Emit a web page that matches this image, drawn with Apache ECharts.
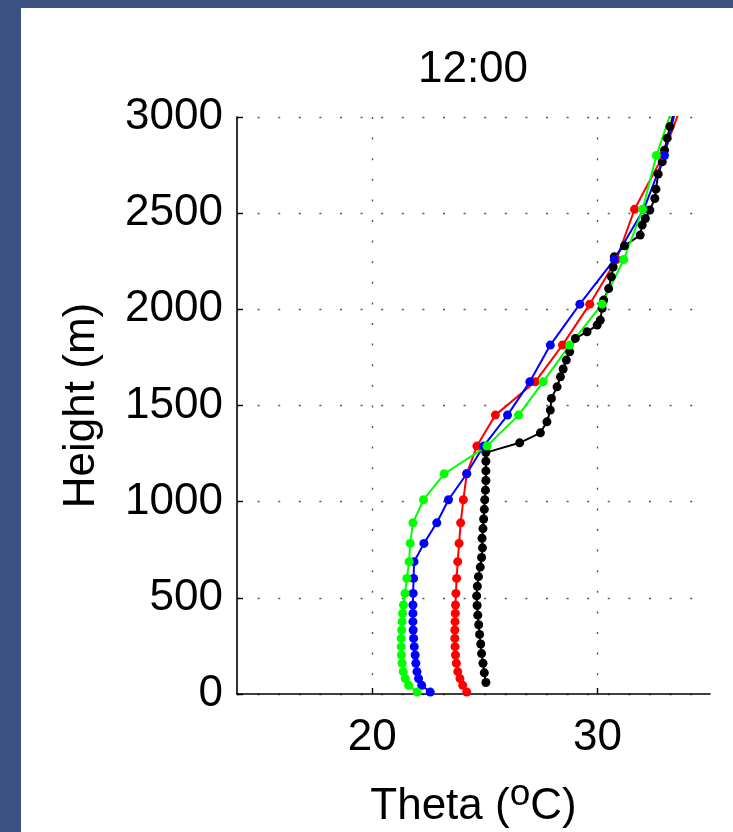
<!DOCTYPE html>
<html><head><meta charset="utf-8">
<script src="https://cdn.jsdelivr.net/npm/echarts@6/dist/echarts.min.js"></script>
<style>
html,body{margin:0;padding:0;background:#3b5181;overflow:hidden}
#bg{position:absolute;left:21px;top:8px;width:712px;height:824px;background:#fff}
#c{position:absolute;left:0;top:0;width:733px;height:832px}
</style>
</head><body><div id="bg"></div><div id="c"></div>
<script>
const titleText = '12:00';
const xTicks = [20, 30];
const modelHeights = [10, 45, 80, 116, 160, 203, 246, 289, 333, 376, 419, 463, 523, 601, 688, 783, 890, 1010, 1145, 1289, 1450, 1623, 1814, 2027, 2259, 2520, 2800, 3100];
const redTheta = [24.2, 24.02, 23.9, 23.8, 23.74, 23.7, 23.68, 23.67, 23.67, 23.68, 23.69, 23.7, 23.72, 23.75, 23.8, 23.86, 23.93, 24.05, 24.2, 24.65, 25.47, 27.24, 28.45, 29.66, 30.85, 31.65, 32.92, 33.85];
const blueTheta = [22.58, 22.2, 22.06, 21.99, 21.94, 21.91, 21.87, 21.84, 21.82, 21.81, 21.81, 21.81, 21.82, 21.84, 21.86, 22.3, 22.87, 23.39, 24.2, 24.95, 26.01, 27.0, 27.91, 29.22, 30.75, 32.06, 32.98, 33.6];
const greenTheta = [22.0, 21.62, 21.47, 21.38, 21.33, 21.3, 21.29, 21.29, 21.31, 21.33, 21.35, 21.39, 21.46, 21.54, 21.64, 21.69, 21.81, 22.28, 23.2, 25.1, 26.5, 27.59, 28.77, 30.21, 31.17, 32.01, 32.62, 33.49];
const blackHeights = [60, 110, 160, 210, 260, 310, 360, 410, 460, 510, 560, 610, 660, 710, 760, 810, 860, 910, 960, 1010, 1060, 1110, 1160, 1210, 1255, 1306, 1358, 1415, 1476, 1537, 1597, 1649, 1690, 1736, 1779, 1849, 1883, 1918, 1944, 2005, 2048, 2108, 2169, 2220, 2273, 2330, 2386, 2438, 2472, 2516, 2576, 2625, 2703, 2767, 2827, 2890, 2950, 3020];
const blackTheta = [25.05, 24.98, 24.92, 24.86, 24.82, 24.77, 24.73, 24.69, 24.66, 24.64, 24.67, 24.72, 24.8, 24.86, 24.9, 24.88, 24.92, 24.95, 24.98, 25.0, 25.03, 25.05, 25.05, 25.05, 25.05, 26.55, 27.47, 27.76, 27.91, 27.96, 28.21, 28.36, 28.48, 28.62, 28.77, 29.02, 29.54, 29.99, 30.13, 30.21, 30.28, 30.5, 30.62, 30.7, 30.75, 31.2, 31.9, 31.99, 32.13, 32.33, 32.55, 32.6, 32.7, 32.88, 32.98, 33.1, 33.22, 33.4];

const FONT = 'Liberation Sans';
function pairs(xs, ys) { return xs.map((x, i) => [x, ys[i]]); }
function mkSeries(name, color, xs, ys) {
  return {
    name, type: 'line', data: pairs(xs, ys),
    symbol: 'circle', symbolSize: 9, showSymbol: true,
    itemStyle: { color }, lineStyle: { color, width: 2 },
    emphasis: { disabled: true }, animation: false, clip: true
  };
}
const gridDot = { color: '#555', width: 1.4, type: [2, 18.6] };
const chart = echarts.init(document.getElementById('c'), null, { renderer: 'canvas' });
chart.setOption({
  backgroundColor: 'transparent',
  animation: false,
  textStyle: { fontFamily: FONT },
  title: {
    text: titleText, left: 468, top: 43, textAlign: 'center',
    textStyle: { fontFamily: FONT, fontSize: 44, fontWeight: 'normal', color: '#000' }
  },
  grid: { left: 237, top: 117, right: 23, bottom: 138, containLabel: false, outerBoundsMode: 'none' },
  xAxis: {
    type: 'value', min: 14, max: 35,
    name: '{n|Theta (}{s|o}{n|C)}', nameLocation: 'middle', nameGap: 82,
    nameTextStyle: {
      rich: {
        n: { fontFamily: FONT, fontSize: 44, color: '#000' },
        s: { fontFamily: FONT, fontSize: 37, color: '#000', verticalAlign: 'top', padding: [0, 0, 24, 0] }
      }
    },
    axisLine: { show: true, lineStyle: { color: '#000', width: 1.6 } },
    axisTick: { show: true, inside: true, length: 6, customValues: xTicks, lineStyle: { color: '#000', width: 1.4 } },
    axisLabel: { customValues: xTicks, margin: 22, fontFamily: FONT, fontSize: 44, color: '#000' },
    splitLine: { show: true, lineStyle: gridDot }
  },
  yAxis: {
    type: 'value', min: 0, max: 3000, interval: 500,
    name: 'Height (m)', nameLocation: 'middle', nameGap: 133, nameRotate: 90,
    nameTextStyle: { fontFamily: FONT, fontSize: 44, color: '#000' },
    axisLine: { show: true, lineStyle: { color: '#000', width: 1.6 } },
    axisTick: { show: true, inside: true, length: 6, lineStyle: { color: '#000', width: 1.4 } },
    axisLabel: { margin: 14, fontFamily: FONT, fontSize: 44, color: '#000', formatter: v => String(v) },
    splitLine: { show: true, lineStyle: gridDot }
  },
  series: [
    mkSeries('Obs', '#000000', blackTheta, blackHeights),
    mkSeries('Red', '#ff0000', redTheta, modelHeights),
    mkSeries('Blue', '#0000ff', blueTheta, modelHeights),
    mkSeries('Green', '#00ff00', greenTheta, modelHeights)
  ]
});
</script>
</body></html>
